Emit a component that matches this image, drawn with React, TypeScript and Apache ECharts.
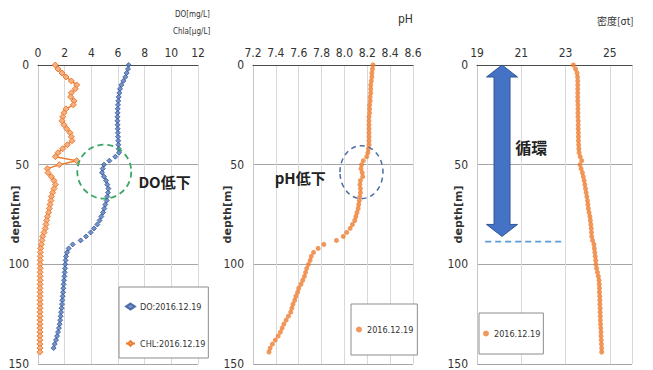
import React, { useEffect, useRef } from 'react';
import * as echarts from 'echarts';

// Sampling depths [m]
const depthM = [
  0, 2, 4, 6, 8, 10, 12, 14, 16, 18, 20, 22, 24, 26, 28, 30, 32, 34, 36, 38,
  40, 42, 44, 46, 48, 50, 52, 54, 56, 58, 60, 62, 64, 66, 68, 70, 72, 74, 76, 78,
  80, 82, 84, 86, 88, 90, 92, 94, 96, 98, 100, 102, 104, 106, 108, 110, 112, 114, 116, 118,
  120, 122, 124, 126, 128, 130, 132, 134, 136, 138, 140, 142, 144,
];

// Dissolved oxygen [mg/L] (0 - 142 m)
const doValues = [
  6.8, 6.75, 6.65, 6.55, 6.4, 6.25, 6.15, 6.1, 6.05, 6.02,
  6.0, 5.98, 5.97, 5.96, 5.96, 5.97, 5.98, 5.99, 6.0, 6.02,
  6.03, 6.05, 6.07, 5.8, 5.35, 4.95, 4.85, 4.8, 4.95, 5.1,
  5.2, 5.28, 5.25, 5.2, 5.15, 5.05, 4.97, 4.88, 4.75, 4.62,
  4.45, 4.2, 3.95, 3.6, 3.2, 2.6, 2.3, 2.18, 2.1, 2.07,
  2.05, 2.03, 2.0, 1.98, 1.95, 1.92, 1.9, 1.88, 1.85, 1.82,
  1.8, 1.77, 1.73, 1.7, 1.66, 1.62, 1.57, 1.5, 1.43, 1.35,
  1.25, 1.17,
];

// Chlorophyll-a [μg/L]
const chlValues = [
  1.3, 1.5, 1.8, 2.1, 2.5, 2.9, 2.8, 2.5, 2.45, 2.7,
  2.65, 2.1, 1.95, 1.85, 1.8, 1.95, 2.15, 2.4, 2.5, 2.55,
  2.2, 1.85, 1.5, 1.3, 2.9, 1.6, 0.7, 0.75, 1.0, 1.2,
  1.3, 1.2, 1.1, 1.0, 0.97, 0.9, 0.85, 0.8, 0.7, 0.65,
  0.6, 0.55, 0.45, 0.35, 0.3, 0.25, 0.2, 0.18, 0.17, 0.17,
  0.16, 0.17, 0.16, 0.16, 0.17, 0.16, 0.15, 0.16, 0.16, 0.15,
  0.16, 0.15, 0.15, 0.16, 0.15, 0.15, 0.14, 0.15, 0.15, 0.14,
  0.14, 0.15, 0.14,
];

// pH
const phValues = [
  8.25, 8.245, 8.24, 8.24, 8.235, 8.23, 8.23, 8.23, 8.225, 8.225,
  8.22, 8.22, 8.22, 8.215, 8.215, 8.215, 8.215, 8.215, 8.215, 8.215,
  8.215, 8.21, 8.205, 8.195, 8.165, 8.15, 8.145, 8.155, 8.16, 8.14,
  8.135, 8.14, 8.14, 8.135, 8.13, 8.125, 8.12, 8.11, 8.1, 8.09,
  8.07, 8.05, 8.02, 7.99, 7.93, 7.82, 7.77, 7.73, 7.71, 7.7,
  7.685, 7.67, 7.66, 7.65, 7.635, 7.62, 7.6, 7.59, 7.575, 7.565,
  7.55, 7.54, 7.53, 7.51, 7.49, 7.47, 7.455, 7.44, 7.42, 7.395,
  7.37, 7.35, 7.34,
];

// Density σt
const sigmaValues = [
  23.35, 23.45, 23.52, 23.54, 23.55, 23.55, 23.55, 23.55, 23.55, 23.55,
  23.56, 23.56, 23.56, 23.56, 23.57, 23.57, 23.57, 23.58, 23.58, 23.58,
  23.59, 23.6, 23.61, 23.66, 23.73, 23.65, 23.7, 23.76, 23.8, 23.84,
  23.87, 23.9, 23.93, 23.96, 23.99, 24.01, 24.03, 24.06, 24.1, 24.12,
  24.14, 24.16, 24.17, 24.18, 24.22, 24.28, 24.3, 24.32, 24.34, 24.36,
  24.37, 24.4, 24.44, 24.48, 24.51, 24.52, 24.53, 24.53, 24.54, 24.55,
  24.55, 24.56, 24.56, 24.57, 24.57, 24.58, 24.59, 24.6, 24.6, 24.61,
  24.62, 24.63, 24.63,
];

const doName = 'DO:2016.12.19';
const chlName = 'CHL:2016.12.19';
const dateName = '2016.12.19';

const NUM_FONT = '"DejaVu Sans Condensed", "Liberation Sans", sans-serif';
const JP_FONT = '"Noto Sans CJK JP", "Noto Sans", sans-serif';
const ORANGE = '#ed7d31';

const pairs = (vals: number[]) => vals.map((v, i) => [v, depthM[i]]);

const makeXAxis = (gridIndex: number, min: number, max: number, interval: number, extra: any = {}) => ({
  gridIndex,
  type: 'value',
  position: 'top',
  min,
  max,
  interval,
  axisLine: { show: true, lineStyle: { color: '#4d4d4d', width: 1 } },
  axisTick: { show: false },
  splitLine: { show: true, lineStyle: { color: '#d9d9d9', width: 1 } },
  axisLabel: { fontFamily: NUM_FONT, fontSize: 12, color: '#333', margin: 6, ...(extra.axisLabel || {}) },
});

const makeYAxis = (gridIndex: number, nameGap: number) => ({
  gridIndex,
  type: 'value',
  inverse: true,
  min: 0,
  max: 150,
  interval: 50,
  name: 'depth[m]',
  nameLocation: 'middle',
  nameRotate: 90,
  nameGap,
  nameMoveOverlap: false,
  nameTextStyle: { fontFamily: '"DejaVu Sans", sans-serif', fontWeight: 'bold', fontSize: 11, color: '#333' },
  axisLine: { show: true, lineStyle: { color: '#c8c8c8' } },
  axisTick: { show: false },
  splitLine: { show: true, lineStyle: { color: '#a6a6a6', width: 1 } },
  axisLabel: { fontFamily: NUM_FONT, fontSize: 12, color: '#333', margin: 9 },
});

const legendBase = {
  orient: 'vertical',
  borderColor: '#8c8c8c',
  borderWidth: 1,
  backgroundColor: '#ffffff',
  itemWidth: 6,
  itemHeight: 6,
  textStyle: { fontFamily: NUM_FONT, fontSize: 9, color: '#333' },
};

export default function App() {
  const ref = useRef<HTMLDivElement>(null);

  useEffect(() => {
    if (!ref.current) return;
    const chart = echarts.init(ref.current, undefined, { renderer: 'svg' });

    const option: any = {
      animation: false,
      backgroundColor: '#ffffff',
      grid: [
        { left: 38, top: 65, width: 160, height: 300 },
        { left: 253, top: 65, width: 160, height: 300 },
        { left: 477, top: 65, width: 155, height: 300 },
      ],
      xAxis: [
        makeXAxis(0, 0, 12, 2),
        makeXAxis(1, 7.2, 8.6, 0.2, { axisLabel: { formatter: (v: number) => v.toFixed(1) } }),
        makeXAxis(2, 19, 26, 2, { axisLabel: { showMaxLabel: false } }),
      ],
      yAxis: [makeYAxis(0, 17), makeYAxis(1, 20), makeYAxis(2, 13)],
      legend: [
        {
          ...legendBase,
          data: [doName, chlName],
          left: 119,
          top: 287,
          padding: [15, 3, 10, 6],
          itemGap: 28,
          itemWidth: 9,
        },
        {
          ...legendBase,
          data: [dateName],
          left: 351,
          top: 304,
          padding: [21, 4, 21, 5],
        },
        {
          ...legendBase,
          data: [dateName],
          left: 479,
          top: 313,
          padding: [16, 3, 16, 4],
        },
      ],
      series: [
        {
          name: chlName,
          type: 'line',
          xAxisIndex: 0,
          yAxisIndex: 0,
          data: pairs(chlValues),
          symbol: 'diamond',
          symbolSize: 6,
          lineStyle: { color: ORANGE, width: 1.5 },
          itemStyle: { color: '#f4b183', borderColor: ORANGE, borderWidth: 1 },
          z: 3,
        },
        {
          name: doName,
          type: 'scatter',
          xAxisIndex: 0,
          yAxisIndex: 0,
          data: pairs(doValues),
          symbol: 'diamond',
          symbolSize: 5,
          itemStyle: { color: '#5478bd', borderColor: '#2f5597', borderWidth: 1 },
          z: 4,
        },
        {
          name: dateName,
          type: 'scatter',
          xAxisIndex: 1,
          yAxisIndex: 1,
          data: pairs(phValues),
          symbol: 'circle',
          symbolSize: 5,
          itemStyle: { color: ORANGE },
        },
        {
          name: dateName,
          type: 'scatter',
          xAxisIndex: 2,
          yAxisIndex: 2,
          data: pairs(sigmaValues),
          symbol: 'circle',
          symbolSize: 5,
          itemStyle: { color: ORANGE },
        },
      ],
    };
    chart.setOption(option);

    // Annotations anchored in data coordinates of each panel
    const px = (g: number, x: number, y: number) => chart.convertToPixel({ gridIndex: g } as any, [x, y]) as number[];
    const doCircle = px(0, 4.97, 53.5);
    const doText = px(0, 7.53, 58.5);
    const phEllipse = px(1, 8.149, 53.75);
    const phText = px(1, 7.39, 56.5);
    const arrowTop = px(2, 20.13, 0);
    const arrowBot = px(2, 20.13, 86);
    const mixA = px(2, 19.37, 88.6);
    const mixB = px(2, 22.9, 88.6);
    const mixText = px(2, 20.73, 41);

    const cx = arrowTop[0];
    const t = arrowTop[1];
    const b = arrowBot[1];
    const hh = 12;
    const hw = 15.5;
    const sw = 8;

    chart.setOption({
      graphic: [
        // header units
        { type: 'text', left: 175, top: 10, style: { text: 'DO[mg/L]', font: '8px ' + NUM_FONT, fill: '#333' } },
        { type: 'text', left: 173, top: 27, style: { text: 'Chla[μg/L]', font: '8px ' + NUM_FONT, fill: '#333' } },
        { type: 'text', left: 398, top: 13, style: { text: 'pH', font: '12px ' + NUM_FONT, fill: '#333' } },
        { type: 'text', left: 597, top: 15, style: { text: '密度[σt]', font: '10px ' + JP_FONT, fill: '#333' } },
        // DO drop
        {
          type: 'circle',
          shape: { cx: doCircle[0], cy: doCircle[1], r: 27 },
          style: { fill: 'none', stroke: '#3aa865', lineWidth: 1.8, lineDash: [6, 4] },
          z: 10,
        },
        {
          type: 'text',
          x: doText[0],
          y: doText[1],
          style: { text: 'DO低下', font: 'bold 15px ' + JP_FONT, fill: '#222', textVerticalAlign: 'middle' },
          z: 10,
        },
        // pH drop
        {
          type: 'ellipse',
          shape: { cx: phEllipse[0], cy: phEllipse[1], rx: 21.5, ry: 26.5 },
          style: { fill: 'none', stroke: '#4a6fa5', lineWidth: 1.5, lineDash: [5, 4] },
          z: 10,
        },
        {
          type: 'text',
          x: phText[0],
          y: phText[1],
          style: { text: 'pH低下', font: 'bold 15px ' + JP_FONT, fill: '#222', textVerticalAlign: 'middle' },
          z: 10,
        },
        // mixing layer arrow
        {
          type: 'polygon',
          shape: {
            points: [
              [cx, t], [cx + hw, t + hh], [cx + sw, t + hh], [cx + sw, b - hh], [cx + hw, b - hh],
              [cx, b], [cx - hw, b - hh], [cx - sw, b - hh], [cx - sw, t + hh], [cx - hw, t + hh],
            ],
          },
          style: { fill: '#4472c4', stroke: '#2f5597', lineWidth: 1 },
          z: 10,
        },
        {
          type: 'line',
          shape: { x1: mixA[0], y1: mixA[1], x2: mixB[0], y2: mixB[1] },
          style: { stroke: '#5b9bd5', lineWidth: 1.6, lineDash: [6, 4] },
          z: 10,
        },
        {
          type: 'text',
          x: mixText[0],
          y: mixText[1],
          style: { text: '循環', font: 'bold 16px ' + JP_FONT, fill: '#222', textVerticalAlign: 'middle' },
          z: 10,
        },
      ],
    });

    return () => chart.dispose();
  }, []);

  return <div ref={ref} style={{ position: 'fixed', left: 0, top: 0, width: 653, height: 370 }} />;
}
